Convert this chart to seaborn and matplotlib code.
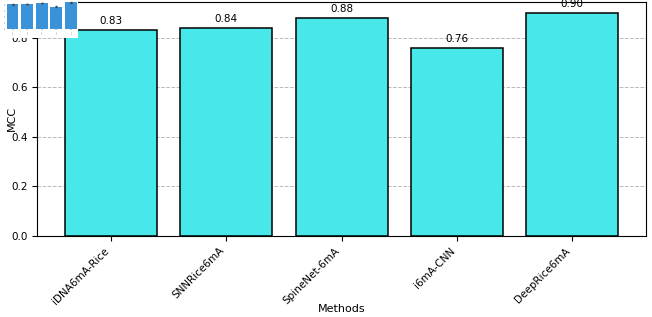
import matplotlib.pyplot as plt
import seaborn as sns
import pandas as pd
from matplotlib.patches import Rectangle

methods = ['iDNA6mA-Rice', 'SNNRice6mA', 'SpineNet-6mA', 'i6mA-CNN', 'DeepRice6mA']
mcc = [0.83, 0.84, 0.88, 0.76, 0.90]
mcc_err = [0.01, 0.01, 0.01, 0.01, 0.01]

df = pd.DataFrame({'Methods': methods, 'MCC': mcc})

fig = plt.figure(figsize=(6.52, 3.17), dpi=100)
ax = fig.add_axes([0.057, 0.256, 0.934, 0.738])

ax.grid(axis='y', linestyle='--', color='gray', alpha=0.55, linewidth=0.7)
ax.set_axisbelow(True)
sns.barplot(data=df, x='Methods', y='MCC', color='#48E8EA', saturation=1,
            edgecolor='black', linewidth=1.1, width=0.8, ax=ax)
for c in ax.containers:
    ax.bar_label(c, fmt='%.2f', padding=3, fontsize=7.5)

ax.set_ylim(0, 0.945)
ax.set_xlim(-0.64, 4.64)
ax.set_xlabel('Methods', fontsize=8)
ax.xaxis.set_label_coords(0.5, -0.292)
ax.set_ylabel('MCC', fontsize=8)
ax.yaxis.set_label_coords(-0.033, 0.5)
ax.tick_params(axis='y', labelsize=7.5)
plt.setp(ax.get_xticklabels(), rotation=45, ha='right', fontsize=7.5)

# small thumbnail pasted in the top-left corner
fig.add_artist(Rectangle((0, 0.88), 0.12, 0.12, transform=fig.transFigure,
                         facecolor='white', edgecolor='none', zorder=5))
ins = fig.add_axes([0.008, 0.909, 0.112, 0.088], zorder=6)
sns.barplot(x=list(range(len(mcc))), y=mcc, color='#3A92D8', saturation=1, width=0.8, ax=ins)
ins.errorbar(range(len(mcc)), mcc, yerr=mcc_err, fmt='none', ecolor='#444444', elinewidth=0.4, capsize=1)
ins.set_ylim(0, 0.95)
ins.set_xlim(-0.5, 4.5)
ins.set_xticks(range(len(mcc)))
ins.set_xticklabels(['/'] * len(mcc), fontsize=4, color='#555555')
ins.tick_params(length=1, width=0.3, labelsize=2, pad=1)
ins.set_yticks([0, 0.2, 0.4, 0.6, 0.8])
ins.set_yticklabels(['', '', '', '', ''])
for s in ins.spines.values():
    s.set_visible(False)

fig.savefig('out.png', dpi=100)
